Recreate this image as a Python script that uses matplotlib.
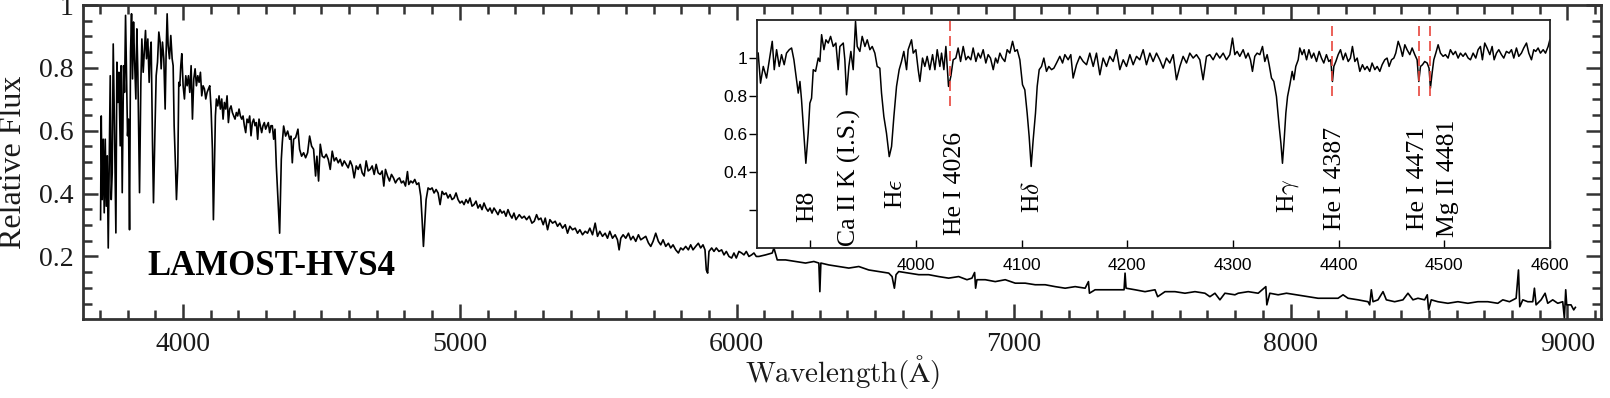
import numpy as np
import matplotlib.pyplot as plt

plt.rcParams['font.family'] = ['Liberation Serif', 'DejaVu Serif']
plt.rcParams['mathtext.fontset'] = 'cm'

# --- full spectrum (wavelength in A, relative flux) ---
blue_wave = [3702.6, 3705.0, 3708.6, 3712.2, 3715.8, 3719.5, 3723.1, 3726.7, 3730.3, 3733.9,
             3737.5, 3741.1, 3744.7, 3748.3, 3753.1, 3757.9, 3761.5, 3765.1, 3768.7, 3773.5,
             3777.1, 3780.8, 3785.6, 3789.2, 3792.8, 3796.4, 3800.0, 3803.6, 3807.2, 3810.8,
             3814.4, 3818.0, 3821.6, 3825.2, 3830.0, 3833.6, 3837.2, 3843.3, 3848.1, 3851.7,
             3856.5, 3861.3, 3864.9, 3868.5, 3873.3, 3878.1, 3881.7, 3885.3, 3890.1, 3893.7,
             3898.6, 3903.4, 3908.2, 3913.0, 3917.8, 3921.4, 3926.2, 3931.0, 3935.8, 3939.4,
             3943.0, 3946.6, 3951.4, 3956.2, 3961.1, 3964.7, 3968.3, 3973.1, 3976.7, 3981.5,
             3985.1, 3988.7, 3992.3, 3995.9, 4000.7, 4005.5, 4010.3, 4015.1, 4019.9, 4024.8,
             4029.6, 4034.4, 4039.2, 4044.0, 4048.8, 4053.6, 4058.4, 4063.2, 4068.0, 4072.8,
             4077.7, 4082.5, 4087.3, 4092.1, 4096.9, 4101.7, 4106.5, 4110.1, 4113.7, 4117.3,
             4120.9, 4125.7, 4130.5, 4135.3, 4140.2, 4145.0, 4149.8, 4154.6, 4159.4, 4164.2,
             4169.0, 4173.8, 4178.6, 4183.4, 4188.2, 4193.0, 4197.8, 4202.7, 4207.5, 4212.3,
             4217.1, 4221.9, 4226.7, 4231.5, 4236.3, 4241.1, 4245.9, 4250.7, 4255.5, 4260.4,
             4265.2, 4270.0, 4274.8, 4279.6, 4284.4, 4289.2, 4294.0, 4298.8, 4303.6, 4308.4,
             4313.2, 4318.0, 4322.9, 4327.7, 4332.5, 4337.3]
blue_flux = [0.317, 0.647, 0.381, 0.573, 0.339, 0.573, 0.360, 0.520, 0.227, 0.509,
             0.775, 0.381, 0.466, 0.876, 0.594, 0.275, 0.818, 0.690, 0.786, 0.552,
             0.807, 0.403, 0.807, 0.722, 0.967, 0.775, 0.584, 0.637, 0.285, 0.850,
             0.972, 0.765, 0.946, 0.829, 0.701, 0.924, 0.786, 0.403, 0.754, 0.892,
             0.786, 0.860, 0.919, 0.829, 0.892, 0.754, 0.850, 0.882, 0.562, 0.371,
             0.584, 0.775, 0.818, 0.914, 0.882, 0.797, 0.882, 0.829, 0.669, 0.850,
             0.972, 0.871, 0.829, 0.903, 0.829, 0.807, 0.616, 0.488, 0.381, 0.488,
             0.754, 0.743, 0.807, 0.845, 0.743, 0.701, 0.775, 0.743, 0.775, 0.722,
             0.807, 0.637, 0.765, 0.797, 0.743, 0.775, 0.754, 0.786, 0.711, 0.743,
             0.733, 0.701, 0.722, 0.733, 0.743, 0.669, 0.541, 0.317, 0.488, 0.647,
             0.701, 0.679, 0.711, 0.669, 0.701, 0.637, 0.690, 0.669, 0.711, 0.626,
             0.669, 0.679, 0.658, 0.647, 0.637, 0.658, 0.647, 0.669, 0.647, 0.637,
             0.647, 0.616, 0.594, 0.637, 0.626, 0.647, 0.584, 0.626, 0.637, 0.616,
             0.626, 0.573, 0.637, 0.616, 0.594, 0.616, 0.626, 0.605, 0.616, 0.626,
             0.594, 0.616, 0.616, 0.573, 0.605, 0.488]

mid_wave = [4349.3, 4355.3, 4358.9, 4363.7, 4370.9, 4378.2, 4385.4, 4390.2, 4395.0, 4399.8,
            4407.0, 4415.4, 4421.4, 4428.6, 4435.9, 4443.1, 4450.3, 4457.5, 4464.7, 4471.9,
            4479.1, 4483.9, 4489.9, 4496.0, 4503.2, 4510.4, 4517.6, 4524.8, 4532.0, 4539.2,
            4546.4, 4553.6, 4560.9, 4568.1, 4575.3, 4582.5, 4589.7, 4596.9, 4604.1, 4611.3,
            4618.5, 4625.8, 4633.0, 4640.2, 4647.4, 4654.6, 4661.8, 4669.0, 4676.2, 4683.5,
            4690.7, 4697.9, 4705.1, 4712.3, 4719.5, 4725.5, 4731.5, 4738.8, 4746.0, 4753.2,
            4760.4, 4767.6, 4774.8, 4782.0, 4789.2, 4796.4, 4803.7, 4810.9, 4815.7, 4822.9,
            4830.1, 4837.3, 4844.5, 4851.7, 4858.9, 4863.8, 4868.6, 4873.4, 4878.2, 4885.4,
            4892.6, 4899.8, 4907.0, 4914.3, 4921.5, 4928.7, 4935.9, 4943.1, 4950.3, 4957.5,
            4964.7, 4971.9, 4979.2, 4986.4, 4993.6, 5000.8, 5008.0, 5015.2, 5022.4, 5029.6,
            5036.8, 5044.1, 5051.3, 5058.5, 5065.7, 5072.9, 5080.1, 5087.3, 5094.5, 5101.8,
            5109.0, 5116.2, 5123.4, 5130.6, 5137.8, 5145.0, 5152.2, 5159.5, 5166.7, 5173.9,
            5181.1, 5188.3, 5195.5, 5202.7, 5214.7, 5224.3, 5232.7, 5241.1, 5250.8, 5260.4,
            5268.8, 5277.2, 5284.4, 5292.8, 5301.2, 5308.5, 5316.9, 5325.3, 5334.9, 5344.5,
            5352.9, 5361.3, 5371.0, 5380.6, 5389.0, 5397.4, 5407.0, 5416.6, 5425.1, 5433.5,
            5443.1, 5452.7, 5461.1, 5469.5, 5479.2, 5488.8, 5497.2, 5505.6, 5515.2, 5524.8,
            5533.3, 5541.7, 5551.3, 5560.9, 5569.3, 5575.3, 5581.3, 5589.7, 5599.3, 5609.0,
            5617.4, 5625.8, 5635.4, 5645.0, 5653.4, 5661.8, 5671.5, 5681.1, 5689.5, 5697.9,
            5707.5, 5717.1, 5725.6, 5734.0, 5743.6, 5753.2, 5761.6, 5770.0, 5779.7, 5789.3,
            5797.7, 5806.1, 5815.7, 5825.3, 5833.7, 5842.1, 5851.8, 5861.4, 5869.8, 5878.2,
            5885.4, 5890.2, 5895.0, 5899.8, 5909.5, 5917.9, 5926.3, 5935.9, 5945.5, 5954.0,
            5962.4, 5972.0, 5981.6, 5990.0, 5998.4, 6008.0, 6017.7, 6026.1, 6034.5, 6044.1,
            6053.7, 6062.1, 6070.6]
mid_flux = [0.274, 0.509, 0.562, 0.615, 0.583, 0.599, 0.573, 0.583, 0.498, 0.573,
            0.578, 0.605, 0.541, 0.519, 0.530, 0.514, 0.530, 0.583, 0.551, 0.541,
            0.456, 0.519, 0.440, 0.557, 0.519, 0.514, 0.525, 0.509, 0.477, 0.535,
            0.504, 0.514, 0.498, 0.509, 0.488, 0.504, 0.493, 0.482, 0.504, 0.488,
            0.450, 0.488, 0.477, 0.493, 0.466, 0.456, 0.504, 0.472, 0.477, 0.488,
            0.461, 0.493, 0.466, 0.461, 0.472, 0.424, 0.477, 0.456, 0.440, 0.461,
            0.450, 0.434, 0.445, 0.450, 0.434, 0.440, 0.424, 0.470, 0.429, 0.440,
            0.434, 0.445, 0.429, 0.434, 0.392, 0.317, 0.232, 0.306, 0.381, 0.418,
            0.413, 0.418, 0.402, 0.413, 0.402, 0.365, 0.407, 0.397, 0.402, 0.386,
            0.397, 0.381, 0.386, 0.402, 0.381, 0.370, 0.376, 0.365, 0.381, 0.370,
            0.386, 0.360, 0.365, 0.376, 0.354, 0.365, 0.349, 0.370, 0.354, 0.344,
            0.354, 0.338, 0.354, 0.344, 0.333, 0.349, 0.338, 0.344, 0.328, 0.349,
            0.333, 0.322, 0.338, 0.317, 0.333, 0.322, 0.328, 0.317, 0.328, 0.306,
            0.312, 0.333, 0.317, 0.322, 0.301, 0.322, 0.285, 0.317, 0.306, 0.312,
            0.296, 0.306, 0.290, 0.301, 0.274, 0.296, 0.285, 0.290, 0.274, 0.285,
            0.269, 0.280, 0.274, 0.290, 0.269, 0.306, 0.264, 0.280, 0.264, 0.274,
            0.258, 0.280, 0.258, 0.269, 0.253, 0.221, 0.258, 0.269, 0.258, 0.274,
            0.253, 0.264, 0.248, 0.269, 0.253, 0.258, 0.264, 0.243, 0.232, 0.248,
            0.274, 0.248, 0.237, 0.253, 0.232, 0.242, 0.227, 0.237, 0.221, 0.211,
            0.227, 0.221, 0.232, 0.221, 0.237, 0.221, 0.232, 0.242, 0.227, 0.237,
            0.221, 0.157, 0.147, 0.216, 0.227, 0.216, 0.227, 0.216, 0.221, 0.205,
            0.216, 0.200, 0.195, 0.211, 0.195, 0.216, 0.211, 0.205, 0.216, 0.200,
            0.205, 0.211, 0.200]

red_wave = [6080.2, 6104.3, 6128.3, 6134.3, 6146.3, 6176.4, 6212.4,
            6248.5, 6278.5, 6296.6, 6300.2, 6303.8, 6332.6, 6368.7, 6404.7, 6440.8, 6476.9,
            6512.9, 6549.0, 6561.0, 6569.4, 6575.4, 6585.1, 6621.1, 6657.2, 6693.2, 6729.3,
            6765.2, 6801.4, 6831.5, 6849.5, 6859.1, 6862.7, 6867.5, 6897.6, 6933.6, 6969.7,
            7005.8, 7041.8, 7077.9, 7113.9, 7150.0, 7186.1, 7222.1, 7258.2, 7270.2, 7273.8,
            7294.2, 7330.3, 7366.4, 7398.8, 7402.4, 7406.0, 7438.5, 7474.5, 7510.6, 7520.2,
            7546.7, 7582.7, 7618.8, 7654.8, 7690.9, 7708.9, 7727.0, 7745.0, 7763.0, 7799.1,
            7811.0, 7847.1, 7883.2, 7910.8, 7914.4, 7925.2, 7955.3, 7985.3, 8021.4, 8063.5,
            8099.5, 8135.6, 8171.6, 8189.7, 8207.7, 8243.8, 8279.8, 8285.8, 8291.8, 8297.9,
            8315.9, 8334.0, 8346.0, 8376.0, 8406.1, 8424.1, 8442.1, 8460.1, 8484.2, 8493.8,
            8498.6, 8508.2, 8532.2, 8568.3, 8604.4, 8640.4, 8676.5, 8712.5, 8748.6, 8766.6,
            8790.7, 8814.7, 8823.2, 8827.9, 8838.8, 8856.8, 8874.8, 8880.8, 8886.8, 8904.9,
            8919.3, 8928.9, 8946.9, 8965.0, 8983.0, 8989.0, 8993.8, 8997.4, 9013.0, 9022.7,
            9028.7]
red_flux = [0.200, 0.205, 0.211, 0.227, 0.189, 0.189, 0.184,
            0.179, 0.184, 0.179, 0.088, 0.179, 0.173, 0.168, 0.163, 0.168, 0.157,
            0.152, 0.147, 0.136, 0.099, 0.142, 0.152, 0.147, 0.142, 0.142, 0.136,
            0.131, 0.136, 0.126, 0.131, 0.149, 0.099, 0.126, 0.126, 0.120, 0.126,
            0.115, 0.115, 0.110, 0.110, 0.104, 0.099, 0.104, 0.099, 0.120, 0.083,
            0.094, 0.094, 0.094, 0.094, 0.147, 0.099, 0.094, 0.088, 0.094, 0.072,
            0.088, 0.088, 0.083, 0.088, 0.083, 0.072, 0.083, 0.062, 0.083, 0.078,
            0.083, 0.088, 0.083, 0.104, 0.046, 0.083, 0.078, 0.083, 0.078, 0.072,
            0.067, 0.067, 0.067, 0.078, 0.067, 0.062, 0.056, 0.046, 0.094, 0.056,
            0.062, 0.088, 0.062, 0.056, 0.062, 0.083, 0.062, 0.067, 0.062, 0.078,
            0.030, 0.062, 0.056, 0.051, 0.056, 0.051, 0.056, 0.056, 0.051, 0.062,
            0.056, 0.067, 0.157, 0.040, 0.062, 0.056, 0.056, 0.099, 0.046, 0.062,
            0.083, 0.051, 0.062, 0.051, 0.056, 0.003, 0.094, 0.046, 0.046, 0.030,
            0.038]

# --- zoomed blue region (normalised flux) ---
zoom_wave = [3850.8, 3853.0, 3855.6, 3858.7, 3861.9, 3864.1, 3866.0, 3868.2, 3870.7, 3872.9,
             3875.4, 3877.6, 3880.2, 3882.4, 3884.6, 3887.1, 3888.7, 3890.3, 3891.8, 3894.0,
             3895.9, 3898.1, 3899.7, 3901.3, 3902.9, 3905.1, 3907.6, 3909.2, 3910.8, 3913.0,
             3914.9, 3917.1, 3919.3, 3921.8, 3924.3, 3926.5, 3928.1, 3931.3, 3932.8, 3934.4,
             3936.6, 3938.5, 3940.7, 3942.9, 3944.5, 3947.0, 3949.2, 3951.8, 3954.0, 3956.5,
             3958.7, 3961.2, 3963.4, 3965.9, 3967.5, 3969.7, 3972.2, 3974.8, 3977.0, 3979.2,
             3981.7, 3984.2, 3986.4, 3988.6, 3991.2, 3992.7, 3995.9, 3997.5, 4000.0, 4002.2,
             4003.8, 4006.3, 4008.5, 4010.7, 4013.2, 4015.8, 4018.0, 4020.2, 4022.7, 4024.3,
             4026.5, 4028.4, 4029.6, 4030.9, 4033.1, 4035.3, 4037.8, 4040.0, 4042.3, 4044.8,
             4047.3, 4049.5, 4052.0, 4054.2, 4056.8, 4059.0, 4061.2, 4063.7, 4066.2, 4068.4,
             4070.6, 4073.2, 4075.4, 4077.3, 4079.5, 4081.7, 4084.2, 4086.4, 4088.9, 4091.5,
             4093.7, 4095.9, 4098.4, 4100.9, 4103.1, 4105.3, 4107.2, 4109.1, 4111.0, 4113.2,
             4114.8, 4116.7, 4118.9, 4121.1, 4123.6, 4125.8, 4128.4, 4130.6, 4133.1, 4136.2,
             4138.8, 4141.0, 4144.1, 4146.6, 4148.8, 4152.0, 4155.2, 4158.3, 4161.5, 4164.6,
             4167.8, 4170.9, 4174.1, 4177.2, 4180.4, 4183.5, 4186.7, 4189.8, 4193.0, 4196.2,
             4199.3, 4202.5, 4205.6, 4208.8, 4211.9, 4215.1, 4218.2, 4221.4, 4224.5, 4227.7,
             4230.8, 4234.0, 4237.1, 4240.3, 4243.5, 4246.6, 4249.8, 4252.9, 4256.1, 4259.2,
             4262.4, 4265.5, 4268.7, 4271.8, 4275.0, 4278.1, 4281.3, 4284.5, 4287.6, 4290.8,
             4293.9, 4297.1, 4299.6, 4301.8, 4304.0, 4306.5, 4309.7, 4312.2, 4314.4, 4316.6,
             4318.5, 4320.7, 4322.9, 4325.5, 4328.0, 4330.2, 4332.4, 4334.3, 4336.5, 4338.7,
             4341.2, 4343.8, 4345.4, 4346.9, 4348.5, 4350.1, 4351.7, 4353.9, 4356.1, 4357.7,
             4359.5, 4361.8, 4363.3, 4365.5, 4367.4, 4369.7, 4371.9, 4374.4, 4376.5, 4379.1,
             4381.6, 4383.8, 4386.0, 4388.5, 4390.7, 4392.6, 4394.2, 4395.5, 4397.4, 4399.6,
             4401.8, 4404.3, 4406.5, 4409.1, 4411.2, 4413.1, 4415.4, 4417.6, 4420.1, 4422.6,
             4424.8, 4427.0, 4429.5, 4431.7, 4434.3, 4436.5, 4439.0, 4441.2, 4443.7, 4445.9,
             4447.8, 4450.1, 4452.3, 4454.1, 4456.4, 4458.6, 4460.5, 4462.7, 4464.8, 4467.4,
             4469.6, 4472.1, 4474.3, 4475.9, 4477.5, 4479.4, 4481.5, 4483.8, 4485.6, 4486.9,
             4488.5, 4490.1, 4492.0, 4494.2, 4496.4, 4498.9, 4501.1, 4503.6, 4505.8, 4508.4,
             4510.6, 4513.1, 4515.3, 4517.8, 4520.0, 4522.6, 4524.8, 4527.3, 4529.8, 4532.0,
             4534.2, 4536.1, 4538.3, 4540.5, 4543.1, 4545.3, 4547.2, 4549.4, 4551.6, 4554.1,
             4556.3, 4558.8, 4561.4, 4563.6, 4565.8, 4568.3, 4570.5, 4573.0, 4575.2, 4577.8,
             4580.0, 4582.5, 4584.7, 4586.6, 4588.8, 4591.0, 4593.6, 4595.8, 4598.3, 4599.9]
zoom_flux = [1.026, 0.868, 0.956, 0.895, 1.009, 1.088, 0.939, 1.044, 0.956, 1.018,
             0.965, 1.026, 1.044, 1.053, 0.991, 0.886, 0.816, 0.877, 0.781, 0.605,
             0.447, 0.605, 0.763, 0.789, 0.939, 0.930, 1.000, 0.982, 1.123, 1.044,
             1.096, 1.079, 1.114, 1.061, 1.079, 0.939, 1.061, 1.079, 0.991, 0.807,
             0.956, 1.035, 0.939, 1.193, 1.061, 1.035, 1.114, 1.061, 1.096, 1.044,
             1.061, 1.026, 0.956, 0.947, 0.816, 0.693, 0.605, 0.482, 0.535, 0.693,
             0.851, 0.939, 0.982, 1.035, 0.939, 1.044, 1.096, 1.026, 1.044, 0.939,
             0.877, 1.000, 0.956, 1.009, 0.939, 1.018, 0.939, 1.044, 0.956, 1.026,
             0.939, 1.061, 0.956, 0.851, 0.904, 0.991, 1.000, 1.053, 0.982, 1.061,
             0.991, 1.009, 0.991, 1.053, 0.982, 1.026, 1.000, 1.044, 0.974, 1.018,
             1.000, 0.939, 1.000, 0.974, 1.026, 1.000, 0.982, 1.044, 1.026, 1.088,
             1.035, 1.044, 0.991, 0.860, 0.833, 0.711, 0.588, 0.430, 0.570, 0.711,
             0.851, 0.939, 0.956, 1.000, 0.930, 0.956, 0.939, 0.947, 0.974, 1.009,
             0.974, 1.018, 0.991, 1.018, 0.895, 0.965, 1.009, 0.982, 0.965, 1.026,
             0.956, 1.026, 0.912, 1.000, 0.956, 1.009, 0.982, 1.044, 0.939, 0.991,
             0.956, 1.018, 0.965, 1.009, 0.991, 1.044, 0.965, 1.026, 0.982, 1.026,
             0.991, 0.947, 1.000, 0.974, 1.018, 0.886, 0.956, 1.009, 0.974, 1.026,
             1.000, 1.018, 0.991, 0.886, 1.009, 1.018, 0.991, 1.026, 1.000, 1.026,
             0.991, 1.018, 1.105, 1.018, 1.035, 1.009, 1.044, 1.000, 1.026, 0.991,
             0.930, 1.009, 1.026, 1.018, 1.061, 0.982, 1.018, 0.965, 0.895, 0.877,
             0.798, 0.640, 0.553, 0.447, 0.570, 0.711, 0.798, 0.860, 0.930, 0.886,
             0.956, 0.991, 1.053, 1.018, 1.044, 0.991, 1.044, 1.000, 1.026, 0.982,
             1.035, 1.000, 0.974, 1.018, 0.982, 0.991, 0.877, 0.956, 0.982, 1.018,
             1.044, 0.991, 1.026, 0.982, 1.000, 1.061, 0.982, 1.000, 0.930, 0.965,
             0.939, 0.956, 0.930, 0.974, 0.939, 0.956, 0.930, 0.965, 0.991, 1.000,
             0.956, 0.991, 1.000, 1.026, 1.088, 1.053, 1.009, 1.070, 1.044, 1.018,
             1.053, 1.018, 0.991, 0.877, 0.956, 0.965, 0.982, 0.974, 0.947, 0.842,
             0.921, 0.991, 1.026, 1.070, 1.026, 1.009, 1.018, 1.000, 1.044, 1.018,
             1.035, 1.000, 1.026, 1.009, 1.026, 1.000, 0.991, 1.026, 1.000, 1.044,
             1.061, 0.991, 1.079, 1.053, 1.018, 1.061, 0.991, 1.026, 1.044, 1.018,
             1.000, 1.035, 1.026, 1.044, 1.000, 1.053, 1.009, 1.026, 1.053, 1.079,
             1.026, 0.991, 1.044, 1.035, 1.053, 1.026, 1.044, 1.026, 1.061, 1.096]

# marked weak lines (dashed red) and labels
mark_wave = [4032.0, 4394.2, 4476.5, 4486.9]
mark_ymin = [0.75, 0.80, 0.80, 0.80]
label_text = ['H8', 'Ca II K (I.S.)', r'H$\epsilon$', 'He I 4026', r'H$\delta$',
              r'H$\gamma$', 'He I 4387', 'He I 4471', 'Mg II 4481']
label_x = [3897, 3937, 3981, 4037, 4111, 4352, 4397, 4475, 4504]
label_y = [0.14, 0.01, 0.205, 0.07, 0.185, 0.185, 0.095, 0.095, 0.06]

main_wave = blue_wave + mid_wave + red_wave
main_flux = blue_flux + mid_flux + red_flux

# --- PLOTTING ---
fig = plt.figure(figsize=(16.1, 3.98), dpi=100)
ax = fig.add_axes([0.0517, 0.1977, 0.9425, 0.7897])

ax.plot(main_wave, main_flux, color='black', linewidth=1.2)
ax.set_xlim(3640, 9120)
ax.set_ylim(0, 1)
ax.set_xticks([4000, 5000, 6000, 7000, 8000, 9000])
ax.set_xticklabels(['4000', '5000', '6000', '7000', '8000', '9000'], family='Liberation Serif')
ax.set_xticks(np.arange(3700, 9101, 100), minor=True)
ax.set_yticks([0.2, 0.4, 0.6, 0.8, 1.0])
ax.set_yticklabels(['0.2', '0.4', '0.6', '0.8', '1'], family='Liberation Serif')
ax.set_yticks(np.arange(0.05, 1.0, 0.05), minor=True)
ax.tick_params(which='both', direction='in', top=True, right=True,
               color='#333333', width=1.8, labelsize=20, labelcolor='#1a1a1a')
ax.tick_params(which='major', length=11)
ax.tick_params(which='minor', length=6.5)
ax.tick_params(axis='x', pad=9)
ax.tick_params(axis='y', pad=7)
for s in ax.spines.values():
    s.set_linewidth(2.0)
    s.set_color('#333333')

fig.text(14 / 1610, 1 - 162 / 398, 'Relative Flux', rotation=90, fontsize=23,
         ha='center', va='center', color='#1a1a1a')
fig.text(842 / 1610, 1 - 372 / 398, r'$\mathrm{Wavelength(\AA)}$', fontsize=21,
         ha='center', va='center', color='#1a1a1a')
ax.text(3873, 0.168, 'LAMOST-HVS4', fontsize=25, fontweight='bold',
        ha='left', va='center')

# inset
axi = fig.add_axes([0.4704, 0.3761, 0.4923, 0.5736])
axi.set_facecolor('white')
axi.plot(zoom_wave, zoom_flux, color='black', linewidth=1.1)
for w, y0 in zip(mark_wave, mark_ymin):
    axi.plot([w, w], [y0, 1.2], color='#e8453c', linewidth=1.2, linestyle=(0, (6, 3)))
for t, x, y in zip(label_text, label_x, label_y):
    axi.text(x, y, t, rotation=90, fontsize=18.5, ha='center', va='bottom')
axi.set_xlim(3850, 4600)
axi.set_ylim(0, 1.2)
axi.set_xticks(np.arange(3900, 4601, 100))
axi.set_xticklabels(['', '4000', '4100', '4200', '4300', '4400', '4500', '4600'],
                    family='Liberation Sans')
axi.set_yticks([0.2, 0.4, 0.6, 0.8, 1.0])
axi.set_yticklabels(['', '0.4', '0.6', '0.8', '1'], family='Liberation Sans')
axi.tick_params(axis='x', direction='in', length=6, width=1.0, labelsize=12.5, pad=7)
axi.tick_params(axis='y', direction='out', length=6, width=1.0, labelsize=12.5, pad=1)
for s in axi.spines.values():
    s.set_linewidth(1.3)
    s.set_color('#222222')

plt.savefig('out.png', dpi=100)
